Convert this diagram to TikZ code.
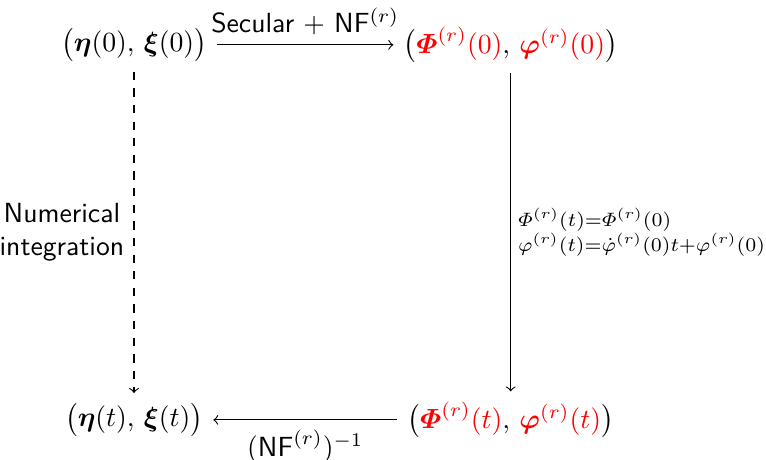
\documentclass[tikz,border=0pt]{standalone}
\usepackage{amsmath}
\usepackage{amssymb}
\usepackage{xcolor}
\usetikzlibrary{positioning}

\begin{document}
\begin{tikzpicture}[
  node distance=47.6mm and 47.8mm,
  state/.style={on grid, inner sep=3.5pt},
  arr/.style={->},
  darr/.style={->, dashed},
  lbl/.style={font=\sffamily},
  eqlbl/.style={align=left, inner sep=2.5pt}
]
\useasboundingbox (-48.4pt,16.2pt) rectangle (228.2pt,-149.8pt);

% ---- the four states ----
\node[state] (init)
  {$\bigl(\boldsymbol{\eta}(0),\,\boldsymbol{\xi}(0)\bigr)$};
\node[state, right=of init] (actinit)
  {$\bigl(\color{red}\boldsymbol{\varPhi}^{(r)}(0)\color{black},\,
   \color{red}\boldsymbol{\varphi}^{(r)}(0)\color{black}\bigr)$};
\node[state, below=of init] (final)
  {$\bigl(\boldsymbol{\eta}(t),\,\boldsymbol{\xi}(t)\bigr)$};
\node[state, below=of actinit] (actfinal)
  {$\bigl(\color{red}\boldsymbol{\varPhi}^{(r)}(t)\color{black},\,
   \color{red}\boldsymbol{\varphi}^{(r)}(t)\color{black}\bigr)$};

% ---- arrows ----
\draw[arr] (init) -- node[above, lbl] {Secular $+$ NF$^{(r)}$} (actinit);
\draw[arr] (actinit) -- node[right, eqlbl]
  {$\scriptstyle \varPhi^{(r)}(t)=\varPhi^{(r)}(0)$\\[-3pt]
   $\scriptstyle \varphi^{(r)}(t)=\dot{\varphi}^{(r)}(0)t+\varphi^{(r)}(0)$} (actfinal);
\draw[arr] (actfinal) -- node[below, lbl] {$(\textsf{NF}^{(r)})^{-1}$} (final);
\draw[darr] (init) -- node[left, lbl, align=center] {Numerical\\ integration} (final);
\end{tikzpicture}
\end{document}
